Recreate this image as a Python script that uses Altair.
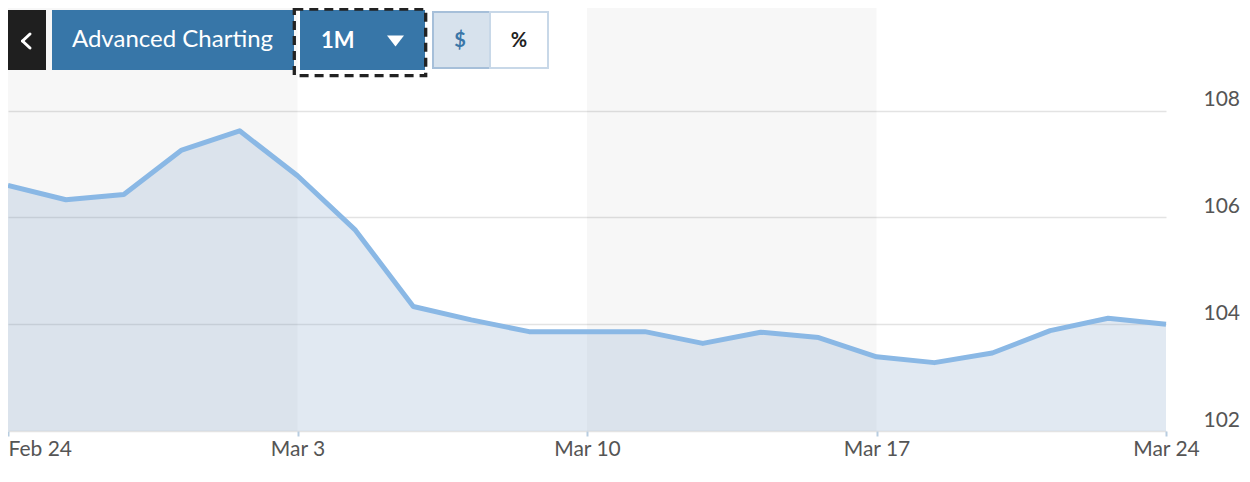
import json
import altair as alt
import pandas as pd

# ---- data ----
dates = ["Feb 24", "Feb 25", "Feb 26", "Feb 27", "Feb 28",
         "Mar 3", "Mar 4", "Mar 5", "Mar 6", "Mar 7",
         "Mar 10", "Mar 11", "Mar 12", "Mar 13", "Mar 14",
         "Mar 17", "Mar 18", "Mar 19", "Mar 20", "Mar 21",
         "Mar 24"]
prices = [106.60, 106.33, 106.43, 107.26, 107.62,
          106.78, 105.76, 104.33, 104.08, 103.86,
          103.86, 103.86, 103.64, 103.85, 103.75,
          103.39, 103.28, 103.46, 103.88, 104.11,
          104.00]
tick_index = [0, 5, 10, 15, 20]
tick_labels = ["Feb 24", "Mar 3", "Mar 10", "Mar 17", "Mar 24"]
y_ticks = [102, 104, 106, 108]
band_start = [0, 10]
band_end = [5, 15]

W, H = 1158, 423
FONT = "Lato"

df = pd.DataFrame({"i": list(range(len(prices))), "date": dates, "price": prices})
bands = pd.DataFrame({"s": band_start, "e": band_end})

xscale = alt.Scale(domain=[0, 20], nice=False, zero=False)
yscale = alt.Scale(domain=[102, 109.92], nice=False, zero=False)

label_expr = f"{json.dumps(tick_labels)}[round(datum.value / 5)]"

x_axis = alt.Axis(values=tick_index, labelExpr=label_expr, title=None, grid=False,
                  domain=False, ticks=True, tickSize=5, tickWidth=2, tickColor="#b8cde0",
                  labelFont=FONT, labelFontSize=21, labelColor="#555555",
                  labelPadding=2, labelFlush=False, labelBound=False, labelOverlap=False,
                  labelBaseline="top",
                  labelAlign={"condition": {"test": "datum.value == 0", "value": "left"},
                              "value": "center"})
y_axis = alt.Axis(values=y_ticks, orient="right", title=None, grid=True,
                  gridColor="#e3e3e3", gridWidth=1.6, domain=False, ticks=False,
                  tickSize=0, labelFont=FONT, labelFontSize=21, labelColor="#555555",
                  labelPadding=37, labelAlign="left", labelBaseline="alphabetic",
                  labelOffset=-5, labelFlush=False, labelBound=False)

band_layer = alt.Chart(bands).mark_rect(color="#000000", opacity=0.031).encode(
    x=alt.X("s:Q", scale=xscale, axis=x_axis),
    x2="e:Q",
    y=alt.value(0),
    y2=alt.value(H),
)

area = alt.Chart(df).mark_area(color="#87a7cb", opacity=0.25).encode(
    x=alt.X("i:Q", scale=xscale, axis=x_axis),
    y=alt.Y("price:Q", scale=yscale, axis=y_axis),
    y2=alt.Y2Datum(102),
)

line = alt.Chart(df).mark_line(color="#8ab8e5", strokeWidth=5, strokeJoin="round").encode(
    x=alt.X("i:Q", scale=xscale),
    y=alt.Y("price:Q", scale=yscale),
)

one = pd.DataFrame({"k": [0]})


def box(x0, x1, y0, y1, **kw):
    return alt.Chart(one).mark_rect(**kw).encode(
        x=alt.value(x0), x2=alt.value(x1), y=alt.value(y0), y2=alt.value(y1))


def seg(x0, y0, x1, y1, **kw):
    return alt.Chart(one).mark_rule(**kw).encode(
        x=alt.value(x0), x2=alt.value(x1), y=alt.value(y0), y2=alt.value(y1))


def label(txt, x, y, **kw):
    return alt.Chart(one).mark_text(text=txt, font=FONT, **kw).encode(
        x=alt.value(x), y=alt.value(y))


back_btn = box(0, 38, 2, 62, color="#1f1f1f")
chev1 = seg(22, 26, 14.5, 33, color="#ffffff", strokeWidth=3, strokeCap="round")
chev2 = seg(14.5, 33, 22, 40, color="#ffffff", strokeWidth=3, strokeCap="round")
adv_btn = box(44, 286, 2, 62, color="#3776a8")
adv_txt = label("Advanced Charting", 164.5, 32, fontSize=24, color="#ffffff",
                align="center", baseline="middle")
m_btn = box(292, 417, 2, 62, color="#3776a8")
m_frame = box(286.3, 417.7, 1.2, 67.7, fill="transparent", stroke="#222222",
              strokeWidth=3.3, strokeDash=[9, 6])
m_txt = label("1M", 313, 33, fontSize=22, fontWeight="bold", color="#ffffff",
              align="left", baseline="middle")
m_tri = alt.Chart(one).mark_point(shape="M-1,-0.65L1,-0.65L0,0.65Z", filled=True,
                                  color="#ffffff", size=289, opacity=1).encode(
    x=alt.value(387.5), y=alt.value(33))
usd_btn = box(425, 482, 4, 60, fill="#d7e2ed", stroke="#a6bfd9", strokeWidth=2)
pct_btn = box(482, 540, 4, 60, fill="#ffffff", stroke="#c8d8e8", strokeWidth=2)
usd_txt = label("$", 452, 33, fontSize=20, fontWeight="bold", color="#3a76a8",
                align="center", baseline="middle")
pct_txt = label("%", 511, 33, fontSize=20, fontWeight="bold", color="#222222",
                align="center", baseline="middle")

chart = alt.layer(
    band_layer, area, line,
    back_btn, chev1, chev2, adv_btn, adv_txt, m_btn, m_frame, m_txt, m_tri,
    usd_btn, pct_btn, usd_txt, pct_txt,
).properties(
    width=W, height=H,
    background="#ffffff",
    autosize=alt.AutoSizeParams(type="none"),
    padding={"left": 0, "top": 0, "right": 76, "bottom": 38},
).configure_view(strokeWidth=0, stroke=None)

chart.save("out.html", embed_options={"renderer": "svg", "actions": False})
